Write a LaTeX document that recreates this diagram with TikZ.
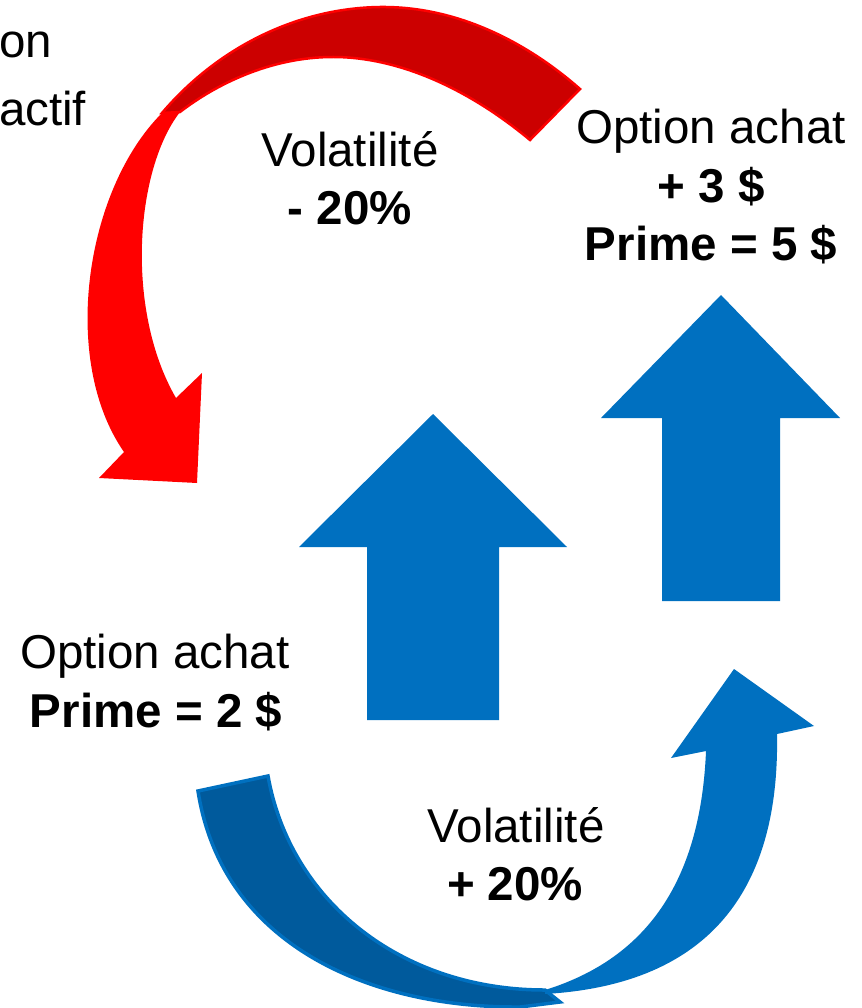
\documentclass[tikz,border=0pt]{standalone}
\usepackage{fontspec}
\setmainfont{Liberation Sans}
\definecolor{oblue}{HTML}{0070C0}
\definecolor{dblue}{HTML}{005A9C}
\definecolor{ored}{HTML}{FF0000}
\definecolor{dred}{HTML}{CC0000}
\begin{document}
\begin{tikzpicture}[x=1pt,y=-1pt,
  every node/.style={inner sep=0pt,outer sep=0pt},
  txt/.style={font=\fontsize{47.5}{57}\selectfont},
  btxt/.style={font=\fontsize{47.5}{57}\selectfont\bfseries},
  backred/.style={fill=dred,draw=ored,line width=2.5pt},
  frontred/.style={fill=ored},
  backblue/.style={fill=dblue,draw=oblue,line width=3.5pt},
  frontblue/.style={fill=oblue},
  uparrow/.style={fill=oblue}]
\useasboundingbox (0,0) rectangle (861,1008);

% red curved arrow: back band
\path[backred] (580,89) .. controls (530,45) and (460,6) .. (380,7)
   .. controls (300,8) and (220,45) .. (162,113)
   -- (180,112) .. controls (215,85) and (270,57) .. (333,57)
   .. controls (400,57) and (470,90) .. (530,140) -- cycle;
% red curved arrow: front band with head
\path[frontred] (162,113) .. controls (85,190) and (60,360) .. (124,452)
   -- (99,478) -- (197,483) -- (202,373) -- (176,398)
   .. controls (125,310) and (135,170) .. (180,112) -- cycle;

% straight blue arrows
\path[uparrow] (433,414) -- (567,547) -- (499,547) -- (499,720)
   -- (367,720) -- (367,547) -- (299,547) -- cycle;
\path[uparrow] (721,295) -- (840,418) -- (780,418) -- (780,601)
   -- (662,601) -- (662,418) -- (601,418) -- cycle;

% blue curved arrow: back band
\path[backblue] (198,791) .. controls (222,945) and (370,1008) .. (520,1007)
   -- (560,1002) -- (545,990)
   .. controls (400,990) and (290,900) .. (268,776) -- cycle;
% blue curved arrow: front band with head
\path[frontblue] (545,994) .. controls (700,985) and (780,900) .. (777,734)
   -- (814,726) -- (734,669) -- (671,758) -- (706,751)
   .. controls (700,895) and (635,962) .. (545,990) -- cycle;

% texts
\node[txt,anchor=base west] (on) at (-1,58) {on};
\node[txt,anchor=base west] (actif) at (-1,126) {actif};

\node[txt,anchor=base] (vol1) at (350,167) {Volatilité};
\node[btxt,anchor=base] (vol1b) at (350,225) {- 20\%};

\node[txt,anchor=base] (opt2) at (711,144) {Option achat};
\node[btxt,anchor=base] (plus3) at (711,203) {+ 3 \$};
\node[btxt,anchor=base] (prime5) at (711,260) {Prime = 5 \$};

\node[txt,anchor=base] (opt1) at (155,668) {Option achat};
\node[btxt,anchor=base] (prime2) at (156,727) {Prime = 2 \$};

\node[txt,anchor=base] (vol2) at (516,842) {Volatilité};
\node[btxt,anchor=base] (vol2b) at (515,900) {+ 20\%};
\end{tikzpicture}
\end{document}
